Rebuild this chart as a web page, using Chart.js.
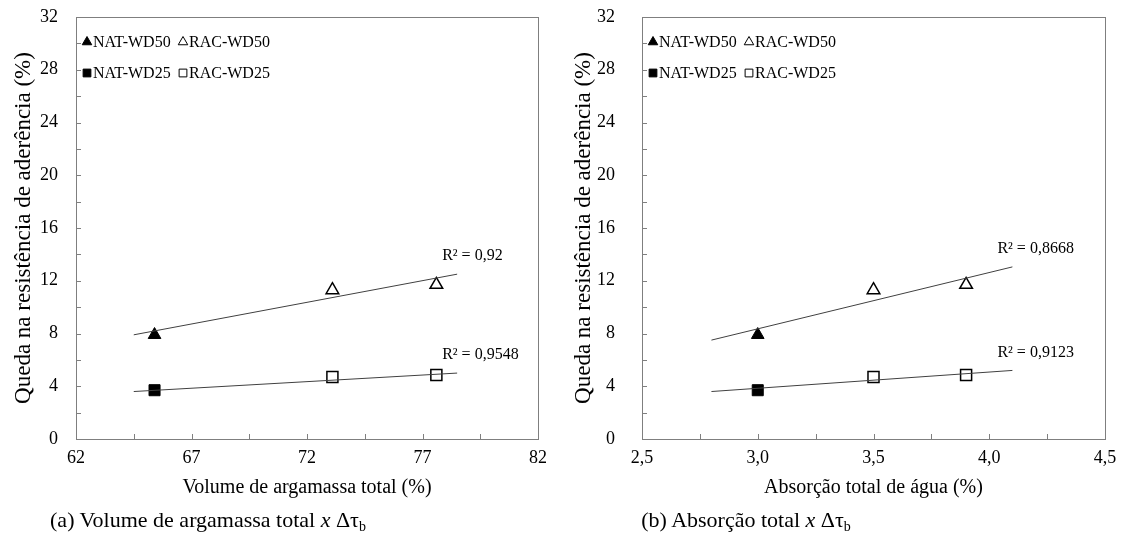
<!DOCTYPE html>
<html>
<head>
<meta charset="utf-8">
<script src="https://cdn.jsdelivr.net/npm/chart.js@4.4.1/dist/chart.umd.min.js"></script>
<style>
  body { margin: 0; background: #fff; width: 1123px; height: 548px; position: relative; overflow: hidden; font-family: "Liberation Serif", "Times New Roman", serif; }
  .painel { position: absolute; top: 0; height: 520px; }
  .legenda { position: absolute; font-size: 22px; color: #000; white-space: nowrap; transform: translate(-50%, -50%); line-height: 1; }
  .legenda sub { font-size: 14px; vertical-align: -4px; }
</style>
</head>
<body>
<div class="painel" style="left:0;width:560px"><canvas id="graficoVolume"></canvas></div>
<div class="painel" style="left:560px;width:563px"><canvas id="graficoAbsorcao"></canvas></div>
<div class="legenda" style="left:208px;top:521px">(a) Volume de argamassa total <i>x</i> Δτ<sub>b</sub></div>
<div class="legenda" style="left:746px;top:521px">(b) Absorção total <i>x</i> Δτ<sub>b</sub></div>
<script>
// Dados
const volumeNAT = [65.4];
const volumeRAC = [73.1, 77.6];
const absorcaoNAT = [3.0];
const absorcaoRAC = [3.5, 3.9];
const quedaNAT_WD50 = [7.9];
const quedaRAC_WD50 = [11.3, 11.7];
const quedaNAT_WD25 = [3.7];
const quedaRAC_WD25 = [4.7, 4.85];

// linhas de tendência (extremos)
const tendVolX = [64.5, 78.5];
const tendVolWD50 = [7.9, 12.5];
const tendVolWD25 = [3.6, 5.0];
const tendAbsX = [2.8, 4.1];
const tendAbsWD50 = [7.5, 13.05];
const tendAbsWD25 = [3.6, 5.2];

const r2Vol = ['R² = 0,92', 'R² = 0,9548'];
const r2Abs = ['R² = 0,8668', 'R² = 0,9123'];

const nomesSeries = ['NAT-WD50', 'RAC-WD50', 'NAT-WD25', 'RAC-WD25'];
const yRotulos = [0, 4, 8, 12, 16, 20, 24, 28, 32];
const xRotulosVol = [62, 67, 72, 77, 82];
const xRotulosAbs = [2.5, 3.0, 3.5, 4.0, 4.5];

const fonte = '"Liberation Serif", "Times New Roman", serif';

function pontos(xs, ys) {
  return xs.map((x, i) => ({ x: x, y: ys[i] }));
}

function temRotulo(lista, v) {
  return lista.some(r => Math.abs(r - v) < 1e-6);
}

// moldura, marcas internas, legenda e R²
const molduraPlugin = {
  id: 'moldura',
  afterDraw(chart, args, opts) {
    const { ctx, chartArea: a, scales } = chart;
    ctx.save();
    ctx.strokeStyle = '#7f7f7f';
    ctx.lineWidth = 1;
    ctx.strokeRect(Math.round(a.left) + 0.5, Math.round(a.top) + 0.5,
      Math.round(a.right - a.left), Math.round(a.bottom - a.top));
    ctx.beginPath();
    scales.x.ticks.forEach(t => {
      const px = Math.round(scales.x.getPixelForValue(t.value)) + 0.5;
      ctx.moveTo(px, a.bottom);
      ctx.lineTo(px, a.bottom - 5);
    });
    scales.y.ticks.forEach(t => {
      const py = Math.round(scales.y.getPixelForValue(t.value)) + 0.5;
      ctx.moveTo(a.left, py);
      ctx.lineTo(a.left + 5, py);
    });
    ctx.stroke();

    ctx.font = '16px ' + fonte;
    ctx.textBaseline = 'middle';
    ctx.textAlign = 'left';
    nomesSeries.forEach((txt, i) => {
      const ds = chart.data.datasets[i];
      const x = a.left + opts.legX[i % 2];
      const y = a.top + opts.legY[Math.floor(i / 2)];
      ctx.fillStyle = ds.pointBackgroundColor;
      ctx.strokeStyle = '#000';
      Chart.helpers.drawPoint(ctx, { pointStyle: ds.pointStyle, radius: 5.5, borderWidth: 1.2, rotation: 0 }, x, y);
      ctx.fillStyle = '#000';
      ctx.fillText(txt, x + 6, y + 1);
    });

    ctx.font = '16px ' + fonte;
    opts.r2.forEach((txt, k) => {
      const meta = chart.getDatasetMeta(4 + k);
      const p = meta.data[meta.data.length - 1];
      ctx.fillText(txt, p.x - 15, p.y - 18);
    });
    ctx.restore();
  }
};

function criarGrafico(id, cfg) {
  const ctx = document.getElementById(id).getContext('2d');
  const serie = (label, xs, ys, estilo, cheio, raio) => ({
    label: label,
    data: pontos(xs, ys),
    showLine: false,
    pointStyle: estilo,
    pointRadius: raio,
    pointBackgroundColor: cheio ? '#000' : 'rgba(0,0,0,0)',
    pointBorderColor: '#000',
    pointBorderWidth: cheio ? 1 : 1.5,
    order: 1
  });
  const tendencia = (xs, ys) => ({
    label: 'tendência',
    data: pontos(xs, ys),
    showLine: true,
    borderColor: '#404040',
    borderWidth: 1,
    pointRadius: 0,
    fill: false,
    order: 0
  });

  return new Chart(ctx, {
    type: 'scatter',
    data: {
      datasets: [
        serie(nomesSeries[0], cfg.xNAT, quedaNAT_WD50, 'triangle', true, 7.3),
        serie(nomesSeries[1], cfg.xRAC, quedaRAC_WD50, 'triangle', false, 7.3),
        serie(nomesSeries[2], cfg.xNAT, quedaNAT_WD25, 'rect', true, 7.8),
        serie(nomesSeries[3], cfg.xRAC, quedaRAC_WD25, 'rect', false, 7.8),
        tendencia(cfg.tendX, cfg.tendWD50),
        tendencia(cfg.tendX, cfg.tendWD25)
      ]
    },
    options: {
      responsive: true,
      maintainAspectRatio: false,
      animation: false,
      layout: { padding: { top: 17, right: cfg.padDir, bottom: 0, left: 0 } },
      plugins: {
        legend: { display: false },
        tooltip: { enabled: false },
        moldura: { legX: [11, 107], legY: [25, 56], r2: cfg.r2 }
      },
      scales: {
        x: {
          type: 'linear',
          min: cfg.xMin,
          max: cfg.xMax,
          afterFit: s => { s.height = 81; s.paddingLeft = 0; s.paddingRight = 0; },
          grid: { display: false, drawTicks: false },
          border: { display: false },
          ticks: {
            stepSize: cfg.xPasso,
            autoSkip: false,
            maxRotation: 0,
            padding: 8,
            color: '#000',
            font: { family: fonte, size: 18 },
            callback: v => temRotulo(cfg.xRotulos, v) ? cfg.fmt(v) : ''
          },
          title: {
            display: true,
            text: cfg.xTitulo,
            color: '#000',
            font: { family: fonte, size: 20 },
            padding: { top: 0, bottom: 20 }
          }
        },
        y: {
          min: 0,
          max: 32,
          afterFit: s => { s.width = cfg.yLarg; s.paddingTop = 0; s.paddingBottom = 0; },
          grid: { display: false, drawTicks: false },
          border: { display: false },
          ticks: {
            stepSize: 2,
            autoSkip: false,
            padding: cfg.yPad,
            color: '#000',
            font: { family: fonte, size: 18 },
            callback: v => temRotulo(yRotulos, v) ? String(v) : ''
          },
          title: {
            display: true,
            text: 'Queda na resistência de aderência (%)',
            color: '#000',
            font: { family: fonte, size: 23 },
            padding: { top: 10, bottom: 0 }
          }
        }
      }
    },
    plugins: [molduraPlugin]
  });
}

document.addEventListener('DOMContentLoaded', function() {
  criarGrafico('graficoVolume', {
    xNAT: volumeNAT, xRAC: volumeRAC,
    tendX: tendVolX, tendWD50: tendVolWD50, tendWD25: tendVolWD25,
    r2: r2Vol,
    xMin: 62, xMax: 82, xPasso: 2.5, xRotulos: xRotulosVol,
    fmt: v => String(v),
    xTitulo: 'Volume de argamassa total (%)',
    yLarg: 76, yPad: 18, padDir: 22
  });
  criarGrafico('graficoAbsorcao', {
    xNAT: absorcaoNAT, xRAC: absorcaoRAC,
    tendX: tendAbsX, tendWD50: tendAbsWD50, tendWD25: tendAbsWD25,
    r2: r2Abs,
    xMin: 2.5, xMax: 4.5, xPasso: 0.25, xRotulos: xRotulosAbs,
    fmt: v => v.toFixed(1).replace('.', ','),
    xTitulo: 'Absorção total de água (%)',
    yLarg: 82, yPad: 27, padDir: 18
  });
});
</script>
</body>
</html>
